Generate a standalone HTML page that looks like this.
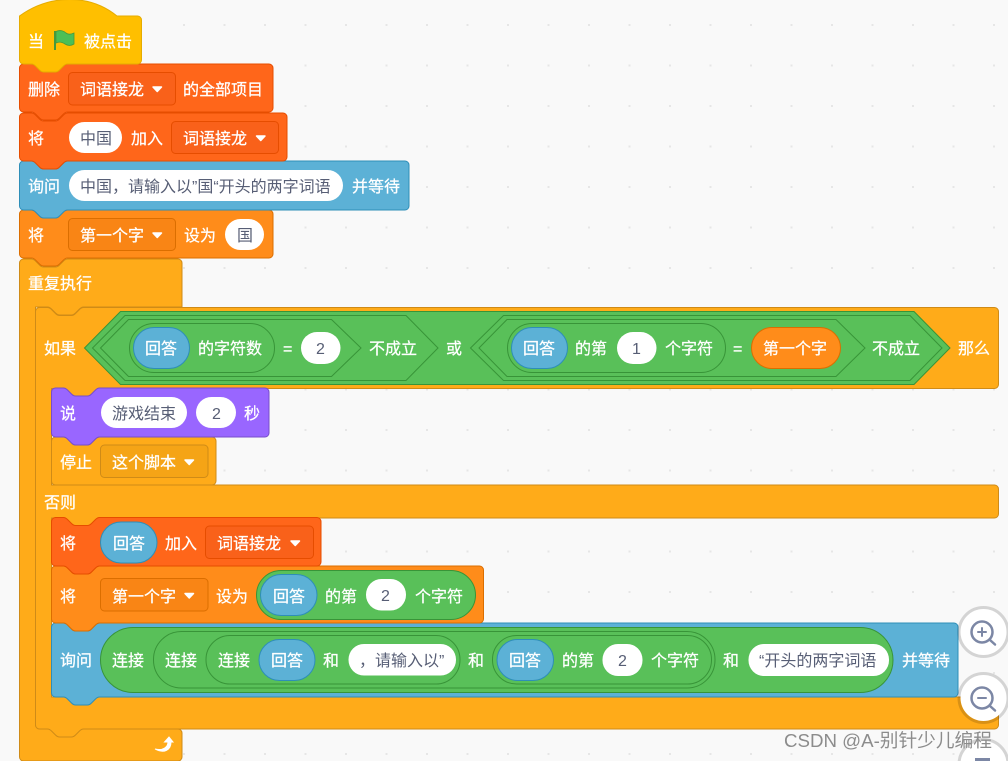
<!DOCTYPE html>
<html><head><meta charset="utf-8"><style>
html,body{margin:0;padding:0;width:1008px;height:761px;overflow:hidden;background:#f9f9f9}
svg{display:block;font-family:"Liberation Sans","Noto Sans CJK SC",sans-serif}
.t text{fill:#fff;font-size:16px;stroke:#fff;stroke-width:.25px}
.i text{fill:#575e75;font-size:16px}
.w rect{fill:#fff}
</style></head><body>
<svg width="1008" height="761" viewBox="0 0 1008 761" xmlns="http://www.w3.org/2000/svg">
<defs><pattern id="d" x="183" y="24" width="40.5" height="40.5" patternUnits="userSpaceOnUse"><rect width="2" height="2" fill="#e6e6e6"/></pattern></defs>
<rect width="1008" height="761" fill="#f9f9f9"/>
<rect x="183" y="24" width="825" height="737" fill="url(#d)"/>

<!-- forever -->
<path d="M19.5,263 a4,4 0 0 1 4,-4 h8 c2,0 3,1 4,2 l4,4 c1,1 2,2 4,2 h12 c2,0 3,-1 4,-2 l4,-4 c1,-1 2,-2 4,-2 H178 a4,4 0 0 1 4,4 V307 H83.5 c-2,0 -3,1 -4,2 l-4,4 c-1,1 -2,2 -4,2 h-12 c-2,0 -3,-1 -4,-2 l-4,-4 c-1,-1 -2,-2 -4,-2 H35.5 V725 a4,4 0 0 0 4,4 H178 a4,4 0 0 1 4,4 V757 a4,4 0 0 1 -4,4 H23.5 a4,4 0 0 1 -4,-4 z" fill="#ffab19" stroke="#cf8b17"/>
<!-- if/else -->
<path d="M35.5,311.5 a4,4 0 0 1 4,-4 h8 c2,0 3,1 4,2 l4,4 c1,1 2,2 4,2 h12 c2,0 3,-1 4,-2 l4,-4 c1,-1 2,-2 4,-2 H994.5 a4,4 0 0 1 4,4 V384.5 a4,4 0 0 1 -4,4 H99.5 c-2,0 -3,1 -4,2 l-4,4 c-1,1 -2,2 -4,2 h-12 c-2,0 -3,-1 -4,-2 l-4,-4 c-1,-1 -2,-2 -4,-2 H51.5 V485 H994.5 a4,4 0 0 1 4,4 V514 a4,4 0 0 1 -4,4 H99.5 c-2,0 -3,1 -4,2 l-4,4 c-1,1 -2,2 -4,2 h-12 c-2,0 -3,-1 -4,-2 l-4,-4 c-1,-1 -2,-2 -4,-2 H51.5 V697 H994.5 a4,4 0 0 1 4,4 V725 a4,4 0 0 1 -4,4 H83.5 c-2,0 -3,1 -4,2 l-4,4 c-1,1 -2,2 -4,2 h-12 c-2,0 -3,-1 -4,-2 l-4,-4 c-1,-1 -2,-2 -4,-2 H39.5 a4,4 0 0 1 -4,-4 z" fill="#ffab19" stroke="#cf8b17"/>

<!-- top stack -->
<path d="M19.5,214 a4,4 0 0 1 4,-4 h8 c2,0 3,1 4,2 l4,4 c1,1 2,2 4,2 h12 c2,0 3,-1 4,-2 l4,-4 c1,-1 2,-2 4,-2 H269 a4,4 0 0 1 4,4 V254 a4,4 0 0 1 -4,4 H67.5 c-2,0 -3,1 -4,2 l-4,4 c-1,1 -2,2 -4,2 h-12 c-2,0 -3,-1 -4,-2 l-4,-4 c-1,-1 -2,-2 -4,-2 H23.5 a4,4 0 0 1 -4,-4 z" fill="#ff8c1a" stroke="#db6e00"/>
<path d="M19.5,165 a4,4 0 0 1 4,-4 h8 c2,0 3,1 4,2 l4,4 c1,1 2,2 4,2 h12 c2,0 3,-1 4,-2 l4,-4 c1,-1 2,-2 4,-2 H405 a4,4 0 0 1 4,4 V206 a4,4 0 0 1 -4,4 H67.5 c-2,0 -3,1 -4,2 l-4,4 c-1,1 -2,2 -4,2 h-12 c-2,0 -3,-1 -4,-2 l-4,-4 c-1,-1 -2,-2 -4,-2 H23.5 a4,4 0 0 1 -4,-4 z" fill="#5cb1d6" stroke="#2e8eb8"/>
<path d="M19.5,117 a4,4 0 0 1 4,-4 h8 c2,0 3,1 4,2 l4,4 c1,1 2,2 4,2 h12 c2,0 3,-1 4,-2 l4,-4 c1,-1 2,-2 4,-2 H283 a4,4 0 0 1 4,4 V157 a4,4 0 0 1 -4,4 H67.5 c-2,0 -3,1 -4,2 l-4,4 c-1,1 -2,2 -4,2 h-12 c-2,0 -3,-1 -4,-2 l-4,-4 c-1,-1 -2,-2 -4,-2 H23.5 a4,4 0 0 1 -4,-4 z" fill="#ff661a" stroke="#e64d00"/>
<path d="M19.5,68 a4,4 0 0 1 4,-4 h8 c2,0 3,1 4,2 l4,4 c1,1 2,2 4,2 h12 c2,0 3,-1 4,-2 l4,-4 c1,-1 2,-2 4,-2 H269 a4,4 0 0 1 4,4 V108 a4,4 0 0 1 -4,4 H67.5 c-2,0 -3,1 -4,2 l-4,4 c-1,1 -2,2 -4,2 h-12 c-2,0 -3,-1 -4,-2 l-4,-4 c-1,-1 -2,-2 -4,-2 H23.5 a4,4 0 0 1 -4,-4 z" fill="#ff661a" stroke="#e64d00"/>
<path d="M19.5,16 C50,-6 90,-6 117,16 H137.5 a4,4 0 0 1 4,4 V60 a4,4 0 0 1 -4,4 H67.5 c-2,0 -3,1 -4,2 l-4,4 c-1,1 -2,2 -4,2 h-12 c-2,0 -3,-1 -4,-2 l-4,-4 c-1,-1 -2,-2 -4,-2 H23.5 a4,4 0 0 1 -4,-4 z" fill="#ffbf00" stroke="#e6ac00"/>

<!-- inner blocks -->
<path d="M51.5,441 a4,4 0 0 1 4,-4 h8 c2,0 3,1 4,2 l4,4 c1,1 2,2 4,2 h12 c2,0 3,-1 4,-2 l4,-4 c1,-1 2,-2 4,-2 H212 a4,4 0 0 1 4,4 V481 a4,4 0 0 1 -4,4 H55.5 a4,4 0 0 1 -4,-4 z" fill="#ffab19" stroke="#cf8b17"/>
<path d="M51.5,392 a4,4 0 0 1 4,-4 h8 c2,0 3,1 4,2 l4,4 c1,1 2,2 4,2 h12 c2,0 3,-1 4,-2 l4,-4 c1,-1 2,-2 4,-2 H265 a4,4 0 0 1 4,4 V433 a4,4 0 0 1 -4,4 H99.5 c-2,0 -3,1 -4,2 l-4,4 c-1,1 -2,2 -4,2 h-12 c-2,0 -3,-1 -4,-2 l-4,-4 c-1,-1 -2,-2 -4,-2 H55.5 a4,4 0 0 1 -4,-4 z" fill="#9966ff" stroke="#774dcb"/>
<path d="M51.5,627 a4,4 0 0 1 4,-4 h8 c2,0 3,1 4,2 l4,4 c1,1 2,2 4,2 h12 c2,0 3,-1 4,-2 l4,-4 c1,-1 2,-2 4,-2 H954 a4,4 0 0 1 4,4 V693 a4,4 0 0 1 -4,4 H99.5 c-2,0 -3,1 -4,2 l-4,4 c-1,1 -2,2 -4,2 h-12 c-2,0 -3,-1 -4,-2 l-4,-4 c-1,-1 -2,-2 -4,-2 H55.5 a4,4 0 0 1 -4,-4 z" fill="#5cb1d6" stroke="#2e8eb8"/>
<path d="M51.5,570 a4,4 0 0 1 4,-4 h8 c2,0 3,1 4,2 l4,4 c1,1 2,2 4,2 h12 c2,0 3,-1 4,-2 l4,-4 c1,-1 2,-2 4,-2 H479.5 a4,4 0 0 1 4,4 V619 a4,4 0 0 1 -4,4 H99.5 c-2,0 -3,1 -4,2 l-4,4 c-1,1 -2,2 -4,2 h-12 c-2,0 -3,-1 -4,-2 l-4,-4 c-1,-1 -2,-2 -4,-2 H55.5 a4,4 0 0 1 -4,-4 z" fill="#ff8c1a" stroke="#db6e00"/>
<path d="M51.5,521.5 a4,4 0 0 1 4,-4 h8 c2,0 3,1 4,2 l4,4 c1,1 2,2 4,2 h12 c2,0 3,-1 4,-2 l4,-4 c1,-1 2,-2 4,-2 H317 a4,4 0 0 1 4,4 V562 a4,4 0 0 1 -4,4 H99.5 c-2,0 -3,1 -4,2 l-4,4 c-1,1 -2,2 -4,2 h-12 c-2,0 -3,-1 -4,-2 l-4,-4 c-1,-1 -2,-2 -4,-2 H55.5 a4,4 0 0 1 -4,-4 z" fill="#ff661a" stroke="#e64d00"/>

<!-- dropdowns -->
<g stroke-width="1">
<rect x="68.5" y="72.5" width="107" height="32.5" rx="4" fill="#f9611a" stroke="#e64d00"/>
<rect x="171.5" y="121.5" width="107" height="32" rx="4" fill="#f9611a" stroke="#e64d00"/>
<rect x="68.5" y="218.5" width="107" height="32" rx="4" fill="#f98515" stroke="#db6e00"/>
<rect x="100.5" y="445" width="107.5" height="32.5" rx="4" fill="#f5a416" stroke="#cf8b17"/>
<rect x="205.5" y="526" width="108" height="32.5" rx="4" fill="#f9611a" stroke="#e64d00"/>
<rect x="100.5" y="578.5" width="107.5" height="32.5" rx="4" fill="#f98515" stroke="#db6e00"/>
</g>
<g fill="#fff" stroke="#fff" stroke-width="1.5" stroke-linejoin="round">
<path d="M153,87 h8.5 l-4.25,4.5 z"/>
<path d="M256.5,136 h8.5 l-4.25,4.5 z"/>
<path d="M153,233 h8.5 l-4.25,4.5 z"/>
<path d="M185,460 h8.5 l-4.25,4.5 z"/>
<path d="M291,541 h8.5 l-4.25,4.5 z"/>
<path d="M185,593.5 h8.5 l-4.25,4.5 z"/>
</g>

<!-- flag -->
<path d="M55,31 V50" stroke="#45993d" stroke-width="2" fill="none"/>
<path d="M56,31.5 C60,29.5 64,31 66,33 C68,34.5 71,34.5 74,33 V44 C71,46 68,46 65,44 C62,42 59,41.5 56,43 z" fill="#4cbf56" stroke="#45993d" stroke-width=".8"/>

<!-- boolean: outer -->
<g fill="#59c059" stroke="#389438">
<path d="M84.5,348 L120.5,311.5 H914 L950,348 L914,384.5 H120.5 z"/>
<path d="M92.5,348 L125,315.5 H406 L438,348 L406,380.5 H125 z"/>
<path d="M100.5,348 L128.5,319.5 H331.5 L361,348 L331.5,376.5 H128.5 z"/>
<rect x="129.5" y="323.5" width="145" height="49" rx="24.5"/>
<path d="M470.5,348 L503.5,315.5 H910 L942,348 L910,380.5 H503.5 z"/>
<path d="M479,348 L507,319.5 H836 L865,348 L836,376.5 H507 z"/>
<rect x="507.5" y="323.5" width="218" height="49" rx="24.5"/>
<rect x="256.5" y="570.5" width="219" height="49" rx="24.5"/>
<rect x="100.5" y="627.5" width="792.5" height="65" rx="32.5"/>
<rect x="153.5" y="631.5" width="561.5" height="56.5" rx="28"/>
<rect x="206" y="635.5" width="254" height="48.5" rx="24"/>
<rect x="492.5" y="635.5" width="219" height="48.5" rx="24"/>
</g>

<!-- reporter pills -->
<g fill="#5cb1d6" stroke="#2e8eb8">
<rect x="133.5" y="327.5" width="56" height="41" rx="20.5"/>
<rect x="511.5" y="327.5" width="56" height="41" rx="20.5"/>
<rect x="100.5" y="522" width="56.5" height="41" rx="20.5"/>
<rect x="260.5" y="574.5" width="56.5" height="41" rx="20.5"/>
<rect x="259" y="639.5" width="56" height="41" rx="20.5"/>
<rect x="497" y="639.5" width="56.5" height="41" rx="20.5"/>
</g>
<rect x="751.5" y="327.5" width="89" height="41" rx="20.5" fill="#ff8c1a" stroke="#db6e00"/>

<!-- white inputs -->
<g class="w">
<rect x="69" y="122" width="53" height="31" rx="15.5"/>
<rect x="69" y="170" width="274" height="31" rx="15.5"/>
<rect x="225" y="219" width="39" height="31" rx="15.5"/>
<rect x="301" y="332" width="39.5" height="32" rx="16"/>
<rect x="617" y="332" width="39.5" height="32" rx="16"/>
<rect x="101" y="397" width="86" height="31" rx="15.5"/>
<rect x="196" y="397" width="40" height="31" rx="15.5"/>
<rect x="366" y="579" width="40" height="31.5" rx="15.5"/>
<rect x="348.5" y="644" width="107.5" height="31.5" rx="15.5"/>
<rect x="602.5" y="644" width="40" height="32" rx="15.5"/>
<rect x="748.5" y="644" width="140.5" height="32" rx="15.5"/>
</g>

<!-- white labels -->
<g class="t">
<text x="28" y="47">当</text><text x="84" y="47">被点击</text>
<text x="28" y="95">删除</text><text x="80" y="95">词语接龙</text><text x="183" y="95">的全部项目</text>
<text x="28" y="144">将</text><text x="131" y="144">加入</text><text x="183" y="144">词语接龙</text>
<text x="28" y="192">询问</text><text x="352" y="192">并等待</text>
<text x="28" y="241">将</text><text x="80" y="241">第一个字</text><text x="184" y="241">设为</text>
<text x="28" y="289">重复执行</text>
<text x="44" y="354">如果</text>
<text x="145" y="354">回答</text><text x="198" y="354">的字符数</text><text x="283" y="354">=</text><text x="369" y="354">不成立</text><text x="446" y="354">或</text>
<text x="523" y="354">回答</text><text x="575" y="354">的第</text><text x="665" y="354">个字符</text><text x="733" y="354">=</text><text x="763" y="354">第一个字</text><text x="872" y="354">不成立</text><text x="958" y="354">那么</text>
<text x="60" y="419">说</text><text x="244" y="419">秒</text>
<text x="60" y="468">停止</text><text x="112" y="468">这个脚本</text>
<text x="44" y="508">否则</text>
<text x="60" y="549">将</text><text x="113" y="549">回答</text><text x="165" y="549">加入</text><text x="217" y="549">词语接龙</text>
<text x="60" y="602">将</text><text x="112" y="602">第一个字</text><text x="216" y="602">设为</text><text x="273" y="602">回答</text><text x="325" y="602">的第</text><text x="415" y="602">个字符</text>
<text x="60" y="666">询问</text><text x="112" y="666">连接</text><text x="165" y="666">连接</text><text x="218" y="666">连接</text><text x="271" y="666">回答</text><text x="323" y="666">和</text><text x="468" y="666">和</text><text x="509" y="666">回答</text><text x="562" y="666">的第</text><text x="651" y="666">个字符</text><text x="723" y="666">和</text><text x="902" y="666">并等待</text>
</g>

<!-- input labels -->
<g class="i">
<text x="80" y="144">中国</text>
<text x="80" y="192">中国，请输入以”国“开头的两字词语</text>
<text x="237" y="241">国</text>
<text x="316" y="354">2</text>
<text x="632" y="354">1</text>
<text x="112" y="419">游戏结束</text>
<text x="212" y="419">2</text>
<text x="381" y="601">2</text>
<text x="359" y="666">，请输入以”</text>
<text x="618" y="666">2</text>
<text x="759" y="666">“开头的两字词语</text>
</g>

<!-- loop arrow -->
<path d="M155,749 C163,751 168,747 168,742 H164.5 L169,737 L173,742 H171 C171,750 164,754 155,749 z" fill="#fff" stroke="#fff" stroke-width="1"/>

<!-- zoom buttons -->
<g fill="#fff">
<circle cx="983.5" cy="632" r="23"/>
<circle cx="983.5" cy="698" r="23"/>
<circle cx="983.5" cy="764" r="23"/>
</g>
<g fill="none" stroke="rgba(0,0,0,.15)" stroke-width="3">
<circle cx="983.5" cy="632" r="24.5"/>
<circle cx="983.5" cy="698" r="24.5"/>
<circle cx="983.5" cy="764" r="24.5"/>
</g>
<g fill="none" stroke="#7c87a5" stroke-width="2.5" stroke-linecap="round">
<circle cx="982" cy="632" r="10.5"/><path d="M990,640 L995,644.5"/>
<circle cx="982" cy="698" r="10.5"/><path d="M990,706 L995,710.5"/>
</g>
<g fill="none" stroke="#7c87a5" stroke-width="2" stroke-linecap="round">
<path d="M978,632 H986 M982,628 V636 M978,698 H986"/>
</g>
<rect x="975" y="758" width="15" height="3" fill="#7c87a5"/>

<!-- watermark -->
<text x="784" y="747" font-size="18.7" fill="#8c8c8c">CSDN @A-别针少儿编程</text>
</svg>
</body></html>
